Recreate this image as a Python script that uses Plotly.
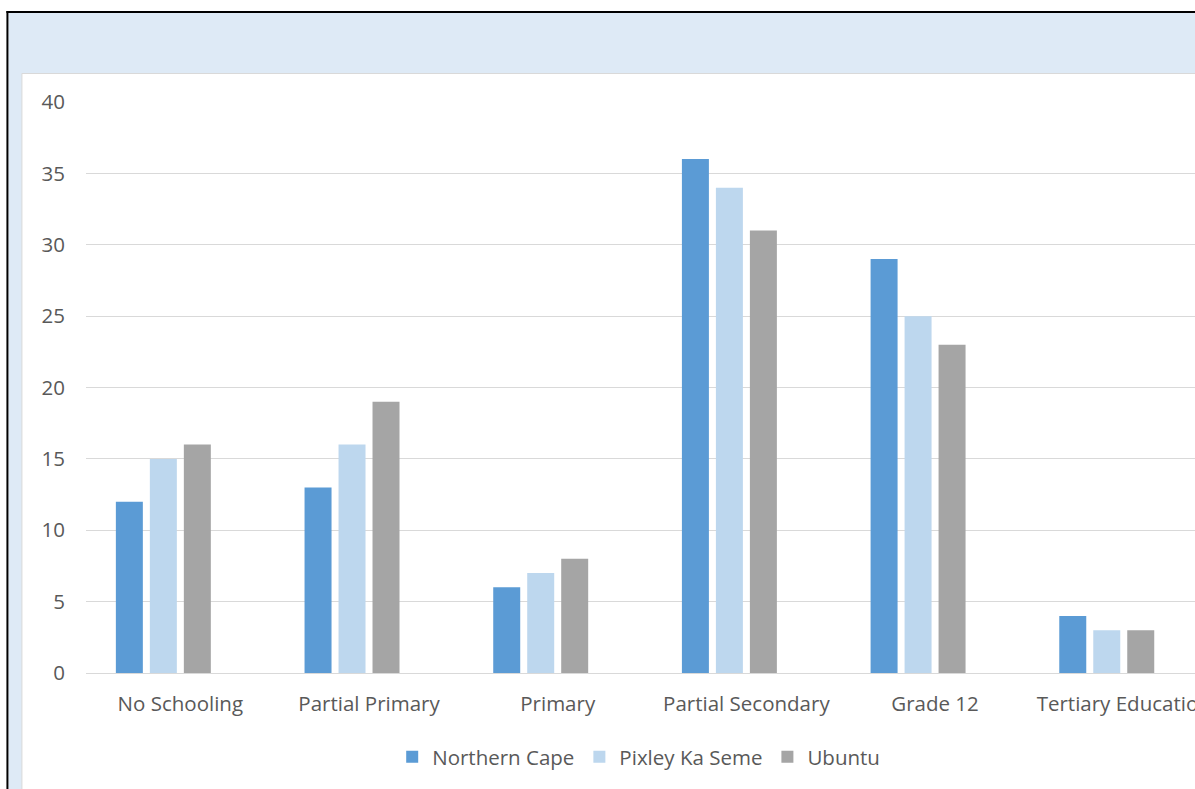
import plotly.graph_objects as go

categories = ["No Schooling", "Partial Primary", "Primary", "Partial Secondary", "Grade 12", "Tertiary Education"]
northern_cape = [12, 13, 6, 36, 29, 4]
pixley_ka_seme = [15, 16, 7, 34, 25, 3]
ubuntu = [16, 19, 8, 31, 23, 3]
series_names = ["Northern Cape", "Pixley Ka Seme", "Ubuntu"]
y_ticks = [0, 5, 10, 15, 20, 25, 30, 35, 40]

W, H = 1195, 789
L, T, B = 85.6, 102, 116
PW = W - L
PH = H - T - B
STEP = 188.75

def px(x):
    return (x - L) / PW

def py(y):
    return (H - B - y) / PH

FONT = "Open Sans"
TXT = "#595959"
colors = ["#5B9BD5", "#BDD7EE", "#A5A5A5"]
offsets = [-64.5 / STEP, -30.5 / STEP, 3.5 / STEP]
bw = 27 / STEP

fig = go.Figure()
for name, vals, c, off in zip(series_names, [northern_cape, pixley_ka_seme, ubuntu], colors, offsets):
    fig.add_trace(go.Bar(
        x=list(range(len(categories))), y=vals, name=name,
        marker=dict(color=c, line=dict(width=0)),
        width=bw, offset=off,
    ))

shapes = [
    dict(type="rect", xref="paper", yref="paper", x0=px(8), x1=px(1210), y0=py(13), y1=py(800),
         fillcolor="#DEEAF6", line=dict(width=0), layer="below"),
    dict(type="rect", xref="paper", yref="paper", x0=px(21.5), x1=px(1210), y0=py(73.5), y1=py(800),
         fillcolor="white", line=dict(color="#D9D9D9", width=1), layer="below"),
    dict(type="line", xref="paper", yref="paper", x0=px(7), x1=px(7), y0=py(11), y1=py(800),
         line=dict(color="black", width=2), layer="below"),
    dict(type="line", xref="paper", yref="paper", x0=px(6), x1=px(1210), y0=py(12), y1=py(12),
         line=dict(color="black", width=2), layer="below"),
]

fig.update_layout(
    width=W, height=H,
    margin=dict(l=L, r=0, t=T, b=B, autoexpand=False),
    paper_bgcolor="white", plot_bgcolor="rgba(0,0,0,0)",
    font=dict(family=FONT, size=20.5, color=TXT),
    barmode="group",
    shapes=shapes,
    showlegend=True,
    legend=dict(orientation="h", xanchor="center", x=px(638.5), yanchor="middle", y=py(757),
                font=dict(family=FONT, size=20.5, color=TXT), bgcolor="rgba(0,0,0,0)"),
    xaxis=dict(range=[-0.5, -0.5 + PW / STEP], tickmode="array", tickvals=list(range(len(categories))),
               ticktext=categories, showgrid=False, zeroline=False, showline=False, ticks="",
               ticklabelstandoff=16, ticklabeloverflow="allow",
               tickfont=dict(family=FONT, size=20.5, color=TXT)),
    yaxis=dict(range=[0, 40], tickmode="array", tickvals=y_ticks, ticktext=[str(v) for v in y_ticks],
               showgrid=True, gridcolor="#D9D9D9", gridwidth=1, zeroline=True, zerolinecolor="#D9D9D9",
               zerolinewidth=1, showline=False, ticks="", ticklabelstandoff=20,
               tickfont=dict(family=FONT, size=20.5, color=TXT)),
)

fig.write_html("out.html")
